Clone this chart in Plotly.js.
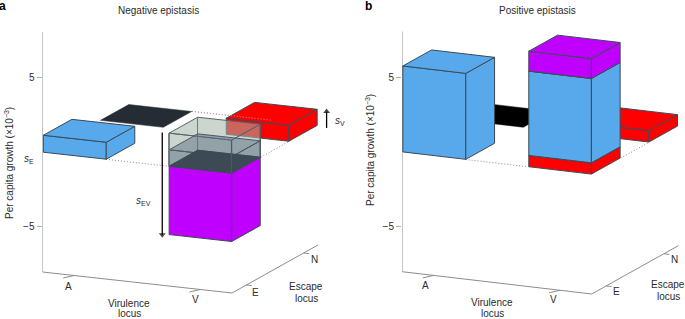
<!DOCTYPE html>
<html><head><meta charset="utf-8">
<script src="https://cdn.plot.ly/plotly-3.0.0.min.js"></script>
<style>html,body{margin:0;padding:0;background:#fff}#c{width:685px;height:319px}</style>
</head><body><div id="c"></div>
<script>
// ---- data (per capita growth x 10^-3) ----
const virulenceLabels = ['A', 'V'];
const escapeLabels = ['E', 'N'];
const yTickVals = [-5, 5];
const yTickText = ['\u22125', '5'];
const negEscapeStack = [0, 1.14];
const negVirulenceStack = [0, 1.08];
const negWildLevel = [0];
const negDoubleStack = [-4.6, 0];
const negExpectedStack = [0, 1.1, 2.22];
const posEscapeStack = [0, 5.78];
const posVirulenceStack = [0, 0.77];
const posWildLevel = [0];
const posDoubleStack = [0, 0.76, 6.43, 7.77];

// ---- oblique projection of (virulence u, escape w, growth g) ----
const FONT = 'Liberation Sans, Arial, sans-serif';
const W = 685, H = 319;
const LOW = [0.003, 0.335], HIGH = [0.667, 0.997];
const EDGE = '#3b4a57', AXIS = '#8c8c8c', TXT = '#2b2b2b';
const BLUE = '#58a9ec', RED = '#ff0000', MAG = '#bf00ff';

const panels = {
  a: {xa: 'x', ya: 'y', left: 42.5, right: 340, y0: 152.3, s: 14.87, ax: 189.5, ay: 21, bx: 86, by: -48, floor: -8.05, top: 8.1},
  b: {xa: 'x2', ya: 'y2', left: 402, right: 685, y0: 152, s: 14.87, ax: 189.7, ay: 22.3, bx: 86.6, by: -48.3, floor: -8.05, top: 8.1}
};
function proj(p, u, w, g) {
  return [p.ax * u + p.bx * w, g - (p.ay * u + p.by * w) / p.s];
}
const traces = [];
function path(p, pts, opt) {
  const q = pts.map(a => proj(p, a[0], a[1], a[2]));
  const t = {
    x: q.map(a => a[0]), y: q.map(a => a[1]), xaxis: p.xa, yaxis: p.ya,
    mode: 'lines', type: 'scatter', hoverinfo: 'skip', showlegend: false, cliponaxis: false,
    line: {color: opt.line || EDGE, width: opt.width === undefined ? 1 : opt.width, dash: opt.dash || 'solid'}
  };
  if (opt.fill) { t.fill = 'toself'; t.fillcolor = opt.fill; t.x.push(t.x[0]); t.y.push(t.y[0]); }
  traces.push(t);
}
function box(p, U, V, g0, g1, fFront, fTop, opt) {
  opt = opt || {};
  const [u0, u1] = U, [w0, w1] = V;
  const lw = opt.width === undefined ? 1 : opt.width, lc = opt.line || EDGE;
  const o = {line: lc, width: lw};
  path(p, [[u0, w0, g0], [u1, w0, g0], [u1, w0, g1], [u0, w0, g1]], {...o, fill: fFront});
  path(p, [[u1, w0, g0], [u1, w1, g0], [u1, w1, g1], [u1, w0, g1]], {...o, fill: fFront});
  path(p, [[u0, w0, g1], [u1, w0, g1], [u1, w1, g1], [u0, w1, g1]], {...o, fill: fTop});
}
function flat(p, U, V, g, color) {
  path(p, [[U[0], V[0], g], [U[1], V[0], g], [U[1], V[1], g], [U[0], V[1], g]], {line: color, width: 0.5, fill: color});
}
function dots(p, g) {
  const d = {line: '#8a8a8a', width: 1, dash: '1px 2px'};
  path(p, [[LOW[1], 0, g], [HIGH[0], 0, g]], d);
  path(p, [[LOW[1], 1, g], [HIGH[0], 1, g]], d);
  path(p, [[1, LOW[1], g], [1, HIGH[0], g]], d);
}
function axes(p) {
  const c = {line: AXIS, width: 1};
  path(p, [[0, 0, p.top], [0, 0, p.floor], [1, 0, p.floor], [1, 1, p.floor]], c);
  [1 / 6, 5 / 6].forEach(u => path(p, [[u, 0, p.floor], [u - 0.028, -0.065, p.floor]], c));
  [1 / 6, 5 / 6].forEach(w => path(p, [[1, w, p.floor], [1.028, w, p.floor]], c));
}
function arrow(p, u, w, gTail, gHead) {
  const t = proj(p, u, w, gTail), h = proj(p, u, w, gHead);
  traces.push({
    x: [t[0], h[0]], y: [t[1], h[1]], xaxis: p.xa, yaxis: p.ya, type: 'scatter', mode: 'lines+markers',
    hoverinfo: 'skip', showlegend: false, cliponaxis: false,
    line: {color: '#000', width: 1.3},
    marker: {color: '#000', size: [0, 6], symbol: gHead > gTail ? 'triangle-up' : 'triangle-down', line: {width: 0}}
  });
}

// ---- panel a ----
const A = panels.a;
axes(A);
dots(A, 0);
flat(A, LOW, HIGH, negWildLevel[0], '#252c34');
box(A, HIGH, HIGH, negVirulenceStack[0], negVirulenceStack[1], RED, RED);
path(A, [[LOW[1], 1, 0], [0.76, 1, 0]], {line: '#c9a0a0', width: 1, dash: '1px 2px'});
box(A, LOW, LOW, negEscapeStack[0], negEscapeStack[1], BLUE, BLUE);
box(A, HIGH, LOW, negExpectedStack[0], negExpectedStack[2], 'rgba(165,180,170,0.56)', 'rgba(165,180,170,0.56)', {line: '#55626a'});
path(A, [[HIGH[0], 1 / 3, negExpectedStack[0]], [HIGH[0], 1 / 3, negExpectedStack[2]]], {line: '#6d7a80'});
box(A, HIGH, LOW, negExpectedStack[0], negExpectedStack[1], 'rgba(90,110,130,0.5)', 'rgba(90,110,130,0.5)', {line: '#4c5a64'});
flat(A, HIGH, LOW, negDoubleStack[1], '#3d4a55');
box(A, HIGH, LOW, negDoubleStack[0], negDoubleStack[1], MAG, 'rgba(61,74,85,1)');
path(A, [[HIGH[0], 0, negExpectedStack[2]], [HIGH[0], 0, negDoubleStack[1]]], {line: '#6d7a80', width: 1.5});
path(A, [[HIGH[1], 0, negExpectedStack[2]], [HIGH[1], 0, negDoubleStack[1]]], {line: '#4c5a64'});
path(A, [[HIGH[1], LOW[1], negExpectedStack[2]], [HIGH[1], LOW[1], negDoubleStack[1]]], {line: '#4c5a64'});
arrow(A, -0.045, 0, 0, 0.97);
arrow(A, 1, 1.1, -0.5, 0.6);
arrow(A, 0.632, 0, negExpectedStack[2], negDoubleStack[0] - 0.05);

// ---- panel b ----
const B = panels.b;
axes(B);
dots(B, 0);
flat(B, LOW, HIGH, posWildLevel[0], '#000000');
box(B, HIGH, HIGH, posVirulenceStack[0], posVirulenceStack[1], RED, RED);
box(B, LOW, LOW, posEscapeStack[0], posEscapeStack[1], BLUE, BLUE);
box(B, HIGH, LOW, posDoubleStack[0], posDoubleStack[1], RED, RED);
box(B, HIGH, LOW, posDoubleStack[1], posDoubleStack[2], BLUE, BLUE);
box(B, HIGH, LOW, posDoubleStack[2], posDoubleStack[3], MAG, MAG);

// ---- text ----
function paperText(x, y, text, extra) {
  return Object.assign({
    xref: 'paper', yref: 'paper', x: x / W, y: 1 - y / H, text, showarrow: false,
    xanchor: 'center', yanchor: 'middle', font: {family: FONT, size: 10, color: TXT}
  }, extra || {});
}
const annotations = [
  paperText(158, 10.5, 'Negative epistasis'),
  paperText(537, 10.5, 'Positive epistasis'),
  paperText(2.8, 6, 'a', {font: {family: FONT, size: 12, color: '#000', weight: 'bold'}}),
  paperText(368, 6, 'b', {font: {family: FONT, size: 12, color: '#000', weight: 'bold'}}),
  paperText(9, 163, 'Per capita growth (\u00d710<sup>\u22123</sup>)', {textangle: -90}),
  paperText(370, 150, 'Per capita growth (\u00d710<sup>\u22123</sup>)', {textangle: -90}),
  paperText(68.5, 286.5, virulenceLabels[0]),
  paperText(196, 299.5, virulenceLabels[1]),
  paperText(255, 292, escapeLabels[0]),
  paperText(314, 259.5, escapeLabels[1]),
  paperText(129, 303, 'Virulence'),
  paperText(129, 313.3, 'locus'),
  paperText(306, 286.5, 'Escape'),
  paperText(306, 298.5, 'locus'),
  paperText(426, 285, virulenceLabels[0]),
  paperText(553, 299.5, virulenceLabels[1]),
  paperText(616, 291.5, escapeLabels[0]),
  paperText(674, 259.5, escapeLabels[1]),
  paperText(492, 302.5, 'Virulence'),
  paperText(492, 313.3, 'locus'),
  paperText(668, 284, 'Escape'),
  paperText(668, 296.5, 'locus'),
  paperText(29, 158.5, '<i>s</i><sub>E</sub>'),
  paperText(340, 121, '<i>s</i><sub>V</sub>'),
  paperText(143, 201, '<i>s</i><sub>EV</sub>')
];

function yAxis(p, anchor) {
  return {
    domain: [0, 1], anchor, range: [(p.y0 - H) / p.s, p.y0 / p.s],
    tickmode: 'array', tickvals: yTickVals, ticktext: yTickText, ticks: 'outside', ticklen: 5, tickwidth: 1, tickcolor: '#b0b0b0',
    showgrid: false, zeroline: false, showline: false, tickfont: {family: FONT, size: 10, color: TXT}, fixedrange: true
  };
}
function xAxis(p, anchor) {
  return {
    domain: [p.left / W, p.right / W], anchor, range: [0, p.right - p.left],
    visible: false, showgrid: false, zeroline: false, fixedrange: true
  };
}
const layout = {
  width: W, height: H, margin: {l: 0, r: 0, t: 0, b: 0}, paper_bgcolor: '#fff', plot_bgcolor: 'rgba(0,0,0,0)',
  showlegend: false, annotations,
  xaxis: xAxis(A, 'y'), yaxis: yAxis(A, 'x'),
  xaxis2: xAxis(B, 'y2'), yaxis2: yAxis(B, 'x2')
};
Plotly.newPlot('c', traces, layout, {displayModeBar: false, staticPlot: true});
</script></body></html>
